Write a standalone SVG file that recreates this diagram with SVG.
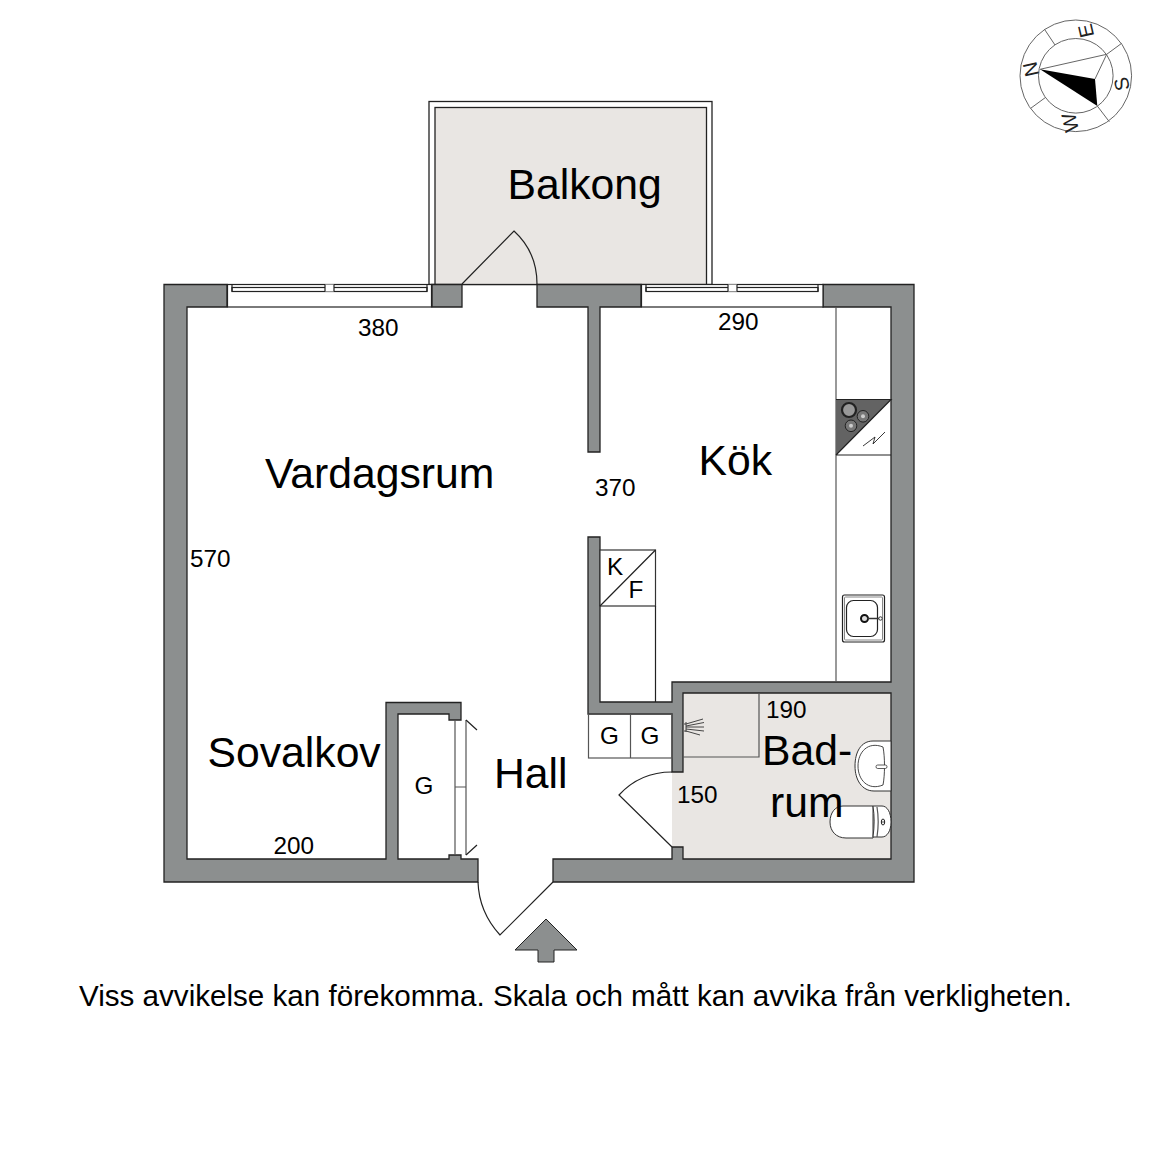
<svg xmlns="http://www.w3.org/2000/svg" width="1152" height="1152" viewBox="0 0 1152 1152">
<style>
text{font-family:"Liberation Sans",Arial,sans-serif;fill:#000}
.room{font-size:42.700px}
.dim{font-size:24.300px}
.wall{fill:#8c8f8f;stroke:#222;stroke-width:1.300}
.ln{fill:none;stroke:#222;stroke-width:1.200}
.gln{fill:none;stroke:#555;stroke-width:1.200}
.white{fill:#fff;stroke:#222;stroke-width:1.200}
.floor{fill:#e9e6e3}
.cp{fill:none;stroke:#666;stroke-width:1}
.cl{font-size:20px;text-anchor:middle;fill:#222}
</style>
<rect width="1152" height="1152" fill="#fff"/>
<g id="balcony">
<rect x="429" y="101.500" width="283" height="183" fill="#fff" stroke="#222" stroke-width="1.300"/>
<rect x="435" y="107.500" width="271.500" height="177" class="floor" stroke="#222" stroke-width="1.300"/>
<path class="ln" d="M462 284 L514 231 Q537 252 537 284"/>
</g>
<g id="bath-floor">
<rect x="672" y="693" width="219" height="166" class="floor"/>
</g>
<g id="walls">
<path class="wall" d="M164 284.500H227V307H187V859H386V702.500H461V720H449V714H398V859H449V855H461V859H478V882H164Z"/>
<path class="wall" d="M432 284.500H462V307H432Z"/>
<path class="wall" d="M537 284.500H641V307H600V452H588V307H537Z"/>
<path class="wall" d="M823 284.500H914V882H553V859H672V847H683V859H891V693H683V772H672V714H588V537H600V702H672V682H891V307H823Z"/>
</g>
<g id="windows">
<rect x="227.500" y="284.500" width="204" height="22.500" class="white"/>
<rect x="232" y="287.500" width="195" height="4" class="white"/>
<rect x="325" y="284.500" width="9" height="7" fill="#fff"/>
<path class="ln" d="M325 284.500V291.500M334 284.500V291.500M232 284.500V291.500M427 284.500V291.500"/>
<rect x="641.500" y="284.500" width="181.500" height="22.500" class="white"/>
<rect x="646" y="287.500" width="172" height="4" class="white"/>
<rect x="728" y="284.500" width="9" height="7" fill="#fff"/>
<path class="ln" d="M728 284.500V291.500M737 284.500V291.500M646 284.500V291.500M818 284.500V291.500"/>
</g>
<g id="kitchen">
<path class="gln" d="M836 307V682"/>
<path d="M836 399.500H891L836 455Z" fill="#636363"/>
<path class="ln" d="M836 399.500H891L836 455M836 455H891"/>
<circle cx="849" cy="410" r="7" fill="#999" stroke="#222" stroke-width="2.200"/>
<circle cx="863" cy="416.300" r="5.800" fill="#777" stroke="#222" stroke-width="1"/><circle cx="863" cy="416.300" r="2" fill="#ccc"/>
<circle cx="851" cy="425.800" r="5.800" fill="#777" stroke="#222" stroke-width="1"/><circle cx="851" cy="425.800" r="2" fill="#ccc"/>
<path d="M863 446 L875 437 L873 444 L885 432" fill="none" stroke="#222" stroke-width="0.900"/>
<rect x="842.500" y="595" width="42" height="47" rx="2" class="white"/>
<rect x="844.500" y="597" width="38" height="43" rx="1" fill="none" stroke="#888" stroke-width="1"/>
<rect x="846.500" y="600.500" width="31" height="36" rx="7" class="ln"/>
<circle cx="864.500" cy="618.500" r="3.500" fill="#ddd" stroke="#111" stroke-width="2"/>
<path d="M867 618.500H879" stroke="#333" stroke-width="1.500"/><circle cx="880.500" cy="618.500" r="1.700" fill="#fff" stroke="#333"/>
</g>
<g id="fridge">
<rect x="600" y="550" width="55.500" height="56" fill="#fff" stroke="#333" stroke-width="1.200"/>
<path class="ln" d="M600 606L655.500 550M655.500 606V702"/>
<text x="607" y="575" class="dim">K</text><text x="628.500" y="598" class="dim">F</text>
</g>
<g id="wardrobes">
<rect x="588.500" y="714" width="83.500" height="44" fill="#fff" class="gln"/>
<path class="gln" d="M630.500 714V758"/>
<text x="600" y="743.500" class="dim">G</text><text x="640.500" y="743.500" class="dim">G</text>
</g>
<g id="shower">
<path class="gln" d="M683 757H759V693"/>
<path d="M684 724H686L703 719M686 726L704 722.500M686 727H704M686 729L704 731M684 731H686L700 735M686 722V732" fill="none" stroke="#333" stroke-width="0.900"/>
</g>
<g id="basin">
<path d="M891 741H873C861 741 855 752 855 766C855 780 862 791 874 791H891Z" fill="#fff" stroke="#333" stroke-width="1"/>
<path d="M883 747C868 741 858 752 858 766C858 780 868 791 883 785C885 775 885 757 883 747Z" fill="none" stroke="#333" stroke-width="0.900"/>
<rect x="876" y="765" width="11" height="3.500" rx="1.700" fill="#fff" stroke="#333" stroke-width="0.800"/>
</g>
<g id="toilet">
<path d="M873 806H843C835 806 830 813 830 822C830 831 836 838 846 838H873Z" fill="#fff" stroke="#333" stroke-width="1"/>
<path d="M873 806H882C887 806 891 812 891 822C891 831 887 837 882 837H873C874.500 826 874.500 816 873 806Z" fill="#fff" stroke="#333" stroke-width="1"/>
<path class="gln" d="M877 807C878.500 816 878.500 827 877 837" stroke-width="0.800"/>
<ellipse cx="883" cy="822" rx="1.700" ry="3" fill="none" stroke="#222" stroke-width="1"/><path d="M881 822H885" stroke="#222" stroke-width="0.800"/>
</g>
<g id="doors">
<path class="ln" d="M672 847L619 795Q640 772 672 772"/>
<path class="ln" d="M553 882L500 935Q479 912 478 882"/>
<path class="gln" d="M455 720V855M466 720V855M455 787H466"/>
<path class="ln" d="M466 720L477 730M466 855L477 845" stroke-width="0.900"/>
</g>
<g id="entrance">
<path d="M546 919L577 950H554V962H538V950H515Z" fill="#8c8f8f" stroke="#222" stroke-width="1"/>
</g>
<g id="compass">
<circle cx="1075.800" cy="75.800" r="55.800" class="cp"/>
<circle cx="1075.800" cy="75.800" r="37.300" class="cp"/>
<path class="cp" d="M1040 69.300L1106.700 54.300L1095 79M1106.700 54.300L1121.700 43.300M1097.300 106L1109.300 121.700M1055 45L1044.300 29M1045.700 97.300L1030.700 108.300"/>
<path d="M1040 69.300L1095 79L1097.300 106Z" fill="#000"/>
<text transform="translate(1030.700 69.300) rotate(-103)" y="7" class="cl">N</text>
<text transform="translate(1086 30.700) rotate(-103)" y="7" class="cl">E</text>
<text transform="translate(1121.700 84) rotate(-103)" y="7" class="cl">S</text>
<text transform="translate(1070 122.700) rotate(-103)" y="7" class="cl">W</text>
</g>
<g id="labels">
<text x="507.500" y="199" class="room">Balkong</text>
<text x="265" y="488" class="room">Vardagsrum</text>
<text x="698.500" y="475" class="room">Kök</text>
<text x="207.500" y="767" class="room">Sovalkov</text>
<text x="494" y="788" class="room">Hall</text>
<text x="762" y="765" class="room">Bad-</text>
<text x="770" y="817" class="room">rum</text>
<text x="358" y="336" class="dim">380</text>
<text x="718" y="330" class="dim">290</text>
<text x="595" y="496" class="dim">370</text>
<text x="190" y="567" class="dim">570</text>
<text x="273.500" y="854" class="dim">200</text>
<text x="766" y="718" class="dim">190</text>
<text x="677" y="803" class="dim">150</text>
<text x="414.500" y="794" class="dim">G</text>
<text x="79" y="1006" style="font-size:29.600px">Viss avvikelse kan förekomma. Skala och mått kan avvika från verkligheten.</text>
</g>
</svg>
